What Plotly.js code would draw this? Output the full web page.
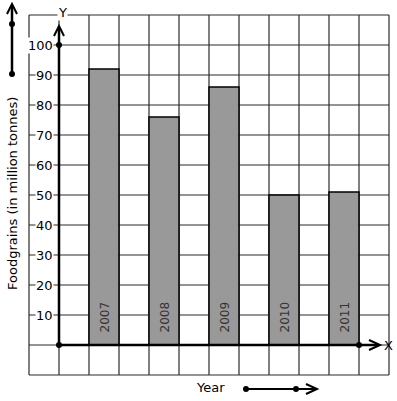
<!DOCTYPE html>
<html>
<head>
<meta charset="utf-8">
<script src="https://cdn.plot.ly/plotly-3.0.1.min.js"></script>
<style>html,body{margin:0;padding:0;background:#fff;}#chart{width:397px;height:401px;}</style>
</head>
<body>
<div id="chart"></div>
<script>
// Data
const years = ["2007", "2008", "2009", "2010", "2011"];
const foodgrains = [92, 76, 86, 50, 51];
const yTickValues = [10, 20, 30, 40, 50, 60, 70, 80, 90, 100];
const yTickLabels = ["10", "20", "30", "40", "50", "60", "70", "80", "90", "100"];

// Pixel helpers (styling only): map pixel positions to axis units
const X = px => (px - 59) / 30;
const Y = py => (345 - py) / 3;

const FONT = "DejaVu Sans, sans-serif";
const barX = years.map((_, i) => 1.5 + 2 * i);

const shapes = [];
// grid
for (let u = -1; u <= 11; u++) {
  shapes.push({type: "line", xref: "x", yref: "y", x0: u, x1: u, y0: -10, y1: 110,
    line: {color: "#2a2a2a", width: 1.2}, layer: "below"});
}
for (let v = -10; v <= 110; v += 10) {
  shapes.push({type: "line", xref: "x", yref: "y", x0: -1, x1: 11, y0: v, y1: v,
    line: {color: "#2a2a2a", width: 1.2}, layer: "below"});
}
// axes
const AX = {color: "#000", width: 2.5};
shapes.push({type: "line", xref: "x", yref: "y", x0: 0, x1: 0, y0: 0, y1: Y(27), line: AX});
shapes.push({type: "line", xref: "x", yref: "y", x0: 0, x1: X(379), y0: 0, y1: 0, line: AX});
function chevUp(px, py) {
  return {type: "path", xref: "x", yref: "y",
    path: `M ${X(px - 5)},${Y(py + 10)} L ${X(px)},${Y(py)} L ${X(px + 5)},${Y(py + 10)}`,
    line: {color: "#000", width: 2}};
}
function chevRight(px, py) {
  return {type: "path", xref: "x", yref: "y",
    path: `M ${X(px - 11)},${Y(py - 5)} L ${X(px)},${Y(py)} L ${X(px - 11)},${Y(py + 5)}`,
    line: {color: "#000", width: 2}};
}
shapes.push(chevUp(59, 26));
shapes.push(chevRight(380, 345));
// left indicator arrow
shapes.push({type: "line", xref: "x", yref: "y", x0: X(12), x1: X(12), y0: Y(74), y1: Y(5), line: AX});
shapes.push(chevUp(12, 4));
// bottom indicator arrow
shapes.push({type: "line", xref: "x", yref: "y", x0: X(246), x1: X(316), y0: Y(389), y1: Y(389), line: {color: "#000", width: 2}});
shapes.push(chevRight(317, 389));

const annotations = [];
yTickValues.forEach((v, i) => {
  annotations.push({x: X(54), y: v, xref: "x", yref: "y", text: yTickLabels[i], showarrow: false,
    xanchor: "right", yanchor: "middle", bgcolor: "#fff", borderpad: 0,
    font: {family: FONT, size: 13, color: "#000"}});
});
years.forEach((yr, i) => {
  annotations.push({x: barX[i], y: Y(335), xref: "x", yref: "y", text: yr, showarrow: false,
    textangle: -90, xanchor: "center", yanchor: "bottom",
    font: {family: FONT, size: 12, color: "#333"}});
});
annotations.push({x: X(62), y: Y(12), xref: "x", yref: "y", text: "Y", showarrow: false,
  bgcolor: "#fff", borderpad: 0, font: {family: FONT, size: 13, color: "#000"}});
annotations.push({x: X(388), y: Y(345), xref: "x", yref: "y", text: "X", showarrow: false,
  font: {family: FONT, size: 13, color: "#000"}});
annotations.push({x: X(210), y: Y(387), xref: "x", yref: "y", text: "Year", showarrow: false,
  font: {family: FONT, size: 13, color: "#000"}});
annotations.push({x: X(12), y: Y(194), xref: "x", yref: "y", text: "Foodgrains (in million tonnes)",
  showarrow: false, textangle: -90, font: {family: FONT, size: 13, color: "#000"}});

const traces = [
  {type: "bar", x: barX, y: foodgrains, width: 1,
    marker: {color: "#999999", line: {color: "#000", width: 1.5}},
    hoverinfo: "skip", showlegend: false},
  {type: "scatter", mode: "markers",
    x: [0, 0, 10, X(12), X(12), X(246), X(296)],
    y: [0, 100, 0, Y(24), Y(74), Y(389), Y(389)],
    marker: {color: "#000", size: 6}, hoverinfo: "skip", showlegend: false, cliponaxis: false}
];

const layout = {
  width: 397, height: 401,
  margin: {l: 0, r: 0, t: 0, b: 0, pad: 0},
  paper_bgcolor: "#fff", plot_bgcolor: "#fff",
  xaxis: {range: [X(0), X(397)], showgrid: false, zeroline: false, showticklabels: false, ticks: "", fixedrange: true},
  yaxis: {range: [Y(401), Y(0)], showgrid: false, zeroline: false, showticklabels: false, ticks: "", fixedrange: true},
  shapes: shapes,
  annotations: annotations,
  showlegend: false
};

Plotly.newPlot("chart", traces, layout, {staticPlot: true, displayModeBar: false});
</script>
</body>
</html>
